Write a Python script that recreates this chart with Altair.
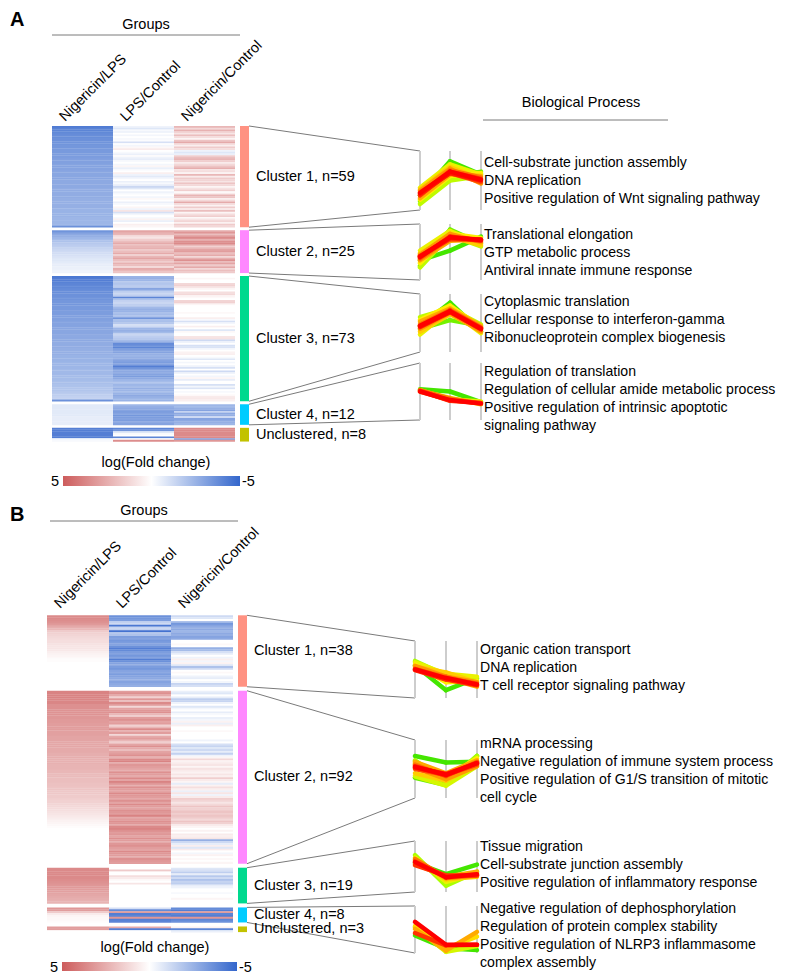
import altair as alt
import pandas as pd

FONT = "Arial, Liberation Sans, sans-serif"
FS = 14.5
FS_TERM = 14.1

# ---------------- data ----------------
groups = ["Nigericin/LPS", "LPS/Control", "Nigericin/Control"]
cluster_names = ["Cluster 1", "Cluster 2", "Cluster 3", "Cluster 4", "Unclustered"]
cluster_colors = ["#ff9282", "#ff88ff", "#00d98e", "#00ccff", "#c2c200"]

a_sizes = [59, 25, 73, 12, 8]
b_sizes = [38, 92, 19, 8, 3]

# Panel A heatmap values (log fold change), one value per gene row
a_c1_nlps = [-4.3,-4.1,-4.0,-3.9,-3.8,-3.7,-3.7,-3.6,-3.6,-3.5,
             -3.5,-3.4,-3.4,-3.3,-3.3,-3.3,-3.2,-3.2,-3.2,-3.1,
             -3.1,-3.1,-3.0,-3.0,-3.0,-3.0,-2.9,-2.9,-2.9,-2.9,
             -2.9,-2.8,-2.8,-2.8,-2.8,-2.8,-2.7,-2.7,-2.7,-2.7,
             -2.7,-2.7,-2.6,-2.6,-2.6,-2.6,-2.6,-2.6,-2.5,-2.5,
             -2.5,-2.5,-2.5,-2.4,-2.4,-2.4,-2.4,-2.3,-3.6]
a_c1_lps = [-0.4,-0.8,-0.2,-0.5,0.0,-0.3,0.0,-0.2,-0.1,-1.0,
            0.0,-0.3,0.2,0.6,0.0,-0.2,-0.5,0.1,-0.4,-0.6,
            -0.2,0.0,-0.3,0.3,-0.5,-0.2,0.0,0.5,-0.4,-0.7,
            -0.3,0.0,-0.5,-0.2,-0.6,-1.3,-0.8,0.0,-0.4,-0.2,
            0.0,-0.3,0.2,0.0,-0.5,-0.2,0.0,0.3,-0.4,0.8,
            -1.0,-0.3,0.0,-0.2,0.4,-0.5,0.0,0.5,0.3]
a_c1_nctl = [2.2,1.2,2.4,1.5,0.8,2.0,1.0,0.3,1.8,2.6,
             1.2,0.5,1.6,1.0,-0.4,-0.8,-0.5,1.4,2.0,2.3,
             1.5,0.6,1.2,1.8,2.5,0.8,1.0,0.4,2.2,0.6,
             1.6,1.3,0.8,1.8,1.2,0.3,0.9,1.5,0.2,0.6,
             2.3,1.8,0.5,1.2,2.6,1.0,0.4,1.6,0.7,2.0,
             0.3,1.0,1.5,0.2,0.8,1.3,0.4,1.6,1.2]
a_c2_nlps = [-3.5,-3.2,-2.8,-2.6,-2.4,-2.2,-2.0,-1.8,-1.7,-1.6,
             -1.4,-1.3,-1.2,-1.1,-1.0,-0.9,-0.8,-0.8,-0.7,-0.6,
             -0.6,-0.5,-0.5,-0.4,-0.4]
a_c2_lps = [2.8,2.5,2.2,1.0,0.8,1.5,2.0,2.6,1.8,2.2,
            2.4,1.6,2.0,2.6,1.4,2.2,2.8,2.0,1.5,2.4,
            2.0,1.2,2.6,2.2,1.8]
a_c2_nctl = [2.6,3.2,2.0,3.0,3.6,2.4,3.4,3.6,2.8,1.4,
             2.2,2.8,3.0,2.0,2.6,1.2,2.4,3.4,2.0,2.8,
             1.6,2.6,1.2,2.0,1.6]
a_c3_nlps = [-4.4,-4.3,-4.2,-4.1,-4.0,-3.9,-3.9,-3.8,-3.7,-3.7,
             -3.6,-3.6,-3.5,-3.5,-3.4,-3.4,-3.4,-3.3,-3.3,-3.3,
             -3.2,-3.2,-3.2,-3.1,-3.1,-3.1,-3.0,-3.0,-3.0,-3.0,
             -2.9,-2.9,-2.9,-2.9,-2.8,-2.8,-2.8,-2.8,-2.7,-2.7,
             -2.7,-2.7,-2.6,-2.6,-2.6,-2.6,-2.5,-2.5,-2.5,-2.5,
             -2.4,-2.4,-2.4,-2.4,-2.3,-2.3,-2.3,-2.3,-2.2,-2.2,
             -2.2,-2.1,-2.1,-2.0,-2.0,-1.9,-1.9,-1.8,-1.7,-1.6,
             -1.5,-1.4,-3.6]
a_c3_lps = [-2.5,-2.6,-2.4,-1.8,-1.9,-1.7,-1.8,-3.0,-2.2,-1.5,
            -1.4,-1.6,-4.0,-2.0,-1.5,-1.3,-1.6,-1.8,-2.3,-2.6,
            -2.5,-2.0,-2.2,-2.0,-3.5,-2.0,-2.1,-1.8,-1.0,-1.2,
            -2.4,-2.6,-2.5,-1.5,-1.4,-1.6,-1.8,-2.2,-2.8,-3.8,
            -3.6,-4.0,-3.2,-3.0,-3.0,-2.6,-2.4,-2.6,-2.8,-3.0,
            -3.2,-3.0,-4.2,-3.6,-3.0,-2.8,-2.6,-3.0,-3.2,-2.8,
            -2.4,-2.2,-2.0,-2.4,-2.2,-2.6,-2.4,-2.0,-2.5,-2.8,
            -2.6,-2.4,-2.5]
a_c3_nctl = [0.0,0.3,0.0,0.0,1.2,1.4,0.8,0.3,0.0,1.0,
             1.2,0.4,0.2,0.0,1.3,1.4,0.3,0.0,0.0,0.0,
             0.0,0.2,0.0,0.0,0.5,-0.2,-1.0,-0.3,0.0,0.5,
             0.0,-0.8,0.2,0.0,0.0,0.8,0.9,-1.2,-0.4,0.0,
             -1.0,-0.9,-0.3,0.0,0.4,0.5,0.0,-0.2,-0.8,0.0,
             -0.3,0.0,-0.4,-1.0,0.0,-1.2,-0.5,0.0,-0.3,0.3,
             -0.6,0.0,0.0,-1.0,-0.3,-0.9,0.0,-0.2,0.0,0.2,
             0.6,0.7,0.5]
a_c4_nlps = [-0.7,-0.7,-0.7,-0.7,-0.7,-0.7,-0.7,-0.6,-0.6,-0.6,-0.6,-0.6]
a_c4_lps = [-2.4,-2.6,-2.8,-3.0,-3.2,-3.0,-3.4,-3.2,-3.0,-3.2,-2.8,-3.0]
a_c4_nctl = [-2.4,-2.2,-2.6,-3.0,-1.4,-2.8,-2.6,-1.2,-3.0,-2.8,-2.6,-2.4]
a_u_nlps = [-4.2,-4.2,-4.2,-4.2,-4.2,-4.2,-0.3,-0.2]
a_u_lps = [-4.0,-3.5,-0.8,-0.2,0.0,-4.0,0.0,3.5]
a_u_nctl = [3.6,3.6,3.6,3.6,3.6,3.6,-3.0,3.2]

# Panel B heatmap values
b_c1_nlps = [3.6,3.6,3.5,3.4,3.2,2.8,2.5,2.2,1.6,1.4,
             1.3,1.2,1.1,1.0,1.0,0.9,0.8,0.8,0.7,0.5,
             0.4,0.3,0.2,0.1,0.1,0.0,0.0,0.0,0.0,0.0,
             0.0,0.0,0.0,0.0,0.0,0.0,0.0,0.0]
b_c1_lps = [-3.6,-3.4,-3.2,-1.6,-1.2,-4.4,-1.4,-1.5,-4.6,-1.8,
            -2.0,-3.2,-3.0,-3.4,-3.2,-3.0,-3.6,-4.2,-3.8,-3.2,
            -3.0,-3.4,-3.0,-4.2,-3.6,-3.0,-2.8,-3.2,-3.4,-3.0,
            -2.8,-3.2,-3.0,-2.8,-2.6,-3.0,-2.8,-2.6]
b_c1_nctl = [-1.2,-0.8,0.0,-2.0,-3.4,-3.0,-2.6,-2.8,-2.4,-2.8,
             -2.6,-3.0,-2.8,0.0,0.0,0.2,0.0,-2.6,-2.2,-1.0,
             -0.6,0.0,-0.4,0.5,-0.3,0.4,-0.8,-2.0,-1.2,0.0,
             0.2,0.0,-0.4,-0.6,0.0,-0.3,-1.4,-1.0]
b_c2_nlps = [3.8,3.8,3.8,3.8,3.7,3.7,3.7,3.4,3.4,3.4,
             3.3,3.3,3.3,3.2,3.2,3.1,3.1,3.0,3.0,3.0,
             3.0,2.9,2.9,2.9,2.8,2.8,2.8,2.7,2.7,2.7,
             2.6,2.6,2.6,2.5,2.5,2.5,2.4,2.4,2.4,2.3,
             2.3,2.3,2.2,2.2,2.1,2.1,2.0,2.0,2.0,1.9,
             1.9,1.8,1.8,1.7,1.7,1.6,1.6,1.5,1.4,1.4,
             1.3,1.2,1.1,1.0,0.9,0.8,0.7,0.6,0.5,0.4,
             0.3,0.2,0.1,0.0,0.0,0.0,0.0,0.0,0.0,0.0,
             0.0,0.0,0.0,0.0,0.0,0.0,0.0,0.0,0.0,0.0,
             0.0,0.0]
b_c2_lps = [3.0,3.4,2.6,1.4,3.2,2.0,3.6,3.0,1.2,2.8,
            3.2,3.4,2.2,1.6,3.0,3.4,2.8,3.0,1.4,2.2,
            3.6,2.4,3.0,1.2,2.6,3.0,2.2,1.5,2.8,3.4,
            2.6,2.0,2.8,3.0,3.4,2.4,3.6,3.8,2.6,3.2,
            3.0,2.8,2.4,3.4,3.0,2.6,3.6,2.8,3.8,3.2,
            2.4,3.4,3.0,2.8,3.6,3.2,3.0,2.6,3.4,2.8,
            3.6,3.0,2.8,3.4,3.2,3.0,3.8,2.6,3.0,3.4,
            3.2,2.8,3.6,3.8,3.4,3.0,3.2,2.8,3.4,3.0,
            2.6,3.2,3.4,3.0,2.8,3.6,3.2,3.0,2.6,3.4,
            3.2,3.0]
b_c2_nctl = [-0.5,-0.8,0.0,-0.6,-1.6,-1.4,
             -0.4,0.0,-0.8,-0.3,0.0,-0.6,-0.2,0.0,-0.5,-0.3,
             0.4,-0.5,0.5,0.0,0.0,0.2,0.0,0.0,0.0,0.0,
             -0.4,0.0,-1.0,-1.4,-0.8,-1.2,-0.6,-1.5,-0.4,0.3,
             1.2,0.4,0.6,0.8,0.3,0.9,0.6,0.4,0.8,0.5,
             1.5,0.6,0.3,-0.6,0.4,1.0,0.5,-0.5,0.8,-0.4,
             0.6,1.5,1.3,0.8,1.2,1.8,1.4,1.6,1.8,1.5,
             1.8,1.6,1.2,1.8,1.4,0.6,0.3,0.0,0.4,0.0,
             0.6,0.5,0.8,-2.6,-1.2,-0.6,0.5,-0.8,0.6,0.0,
             -0.3,0.4,0.0,0.2,0.0,0.3]
b_c3_nlps = [3.6,3.6,3.6,3.6,3.6,3.6,3.5,3.4,3.3,3.2,
             3.1,3.0,2.9,2.8,2.7,2.6,2.5,2.4,2.3]
b_c3_lps = [0.0,1.6,0.0,0.0,1.0,0.6,0.2,0.0,0.8,0.0,
            0.0,0.0,0.0,0.0,0.0,0.0,0.0,0.0,0.0]
b_c3_nctl = [-0.8,-1.0,-1.6,-0.6,-1.8,-1.2,-2.0,-1.4,-1.6,-0.6,
             -0.4,0.0,0.0,-0.2,0.0,0.0,0.3,0.0,0.0]
b_c4_nlps = [3.2,3.0,1.6,0.6,0.3,0.2,0.2,0.1]
b_c4_lps = [-1.0,-3.8,3.0,-4.2,-4.0,3.2,-4.2,-4.0]
b_c4_nctl = [-3.8,-4.2,3.0,-4.0,-4.2,3.2,-4.0,-3.6]
b_u_nlps = [3.0,3.0,0.0]
b_u_lps = [2.6,-4.2,0.0]
b_u_nctl = [0.4,-4.0,-0.5]

a_heat = [[a_c1_nlps, a_c1_lps, a_c1_nctl], [a_c2_nlps, a_c2_lps, a_c2_nctl],
          [a_c3_nlps, a_c3_lps, a_c3_nctl], [a_c4_nlps, a_c4_lps, a_c4_nctl],
          [a_u_nlps, a_u_lps, a_u_nctl]]
b_heat = [[b_c1_nlps, b_c1_lps, b_c1_nctl], [b_c2_nlps, b_c2_lps, b_c2_nctl],
          [b_c3_nlps, b_c3_lps, b_c3_nctl], [b_c4_nlps, b_c4_lps, b_c4_nctl],
          [b_u_nlps, b_u_lps, b_u_nctl]]

# Cluster profiles: standardized values at the three comparisons, and membership
a_prof = [
    [[-1.0,1.3,0.4],[-1.4,0.2,0.6],[-1.6,0.0,0.3],[-0.5,1.1,0.4],[-1.3,0.3,0.5],[-0.6,0.9,0.1],
     [-1.2,0.4,0.3],[-0.7,0.8,-0.2],[-1.0,0.7,0.2],[-0.8,0.5,-0.1],[-1.0,0.6,0.1],[-0.9,0.5,0.0],[-0.85,0.6,0.05]],
    [[-0.6,0.1,1.1],[-1.0,1.6,0.6],[-1.1,1.2,0.4],[0.1,1.5,0.6],[-0.8,1.3,1.0],[-0.1,1.1,0.5],
     [-0.6,0.8,0.9],[-0.2,1.3,0.7],[-0.5,1.0,0.8],[-0.3,0.9,0.9],[-0.4,1.1,0.8],[-0.3,1.0,0.9],[-0.35,1.05,0.85]],
    [[-0.2,1.4,-0.6],[-0.4,0.2,-0.2],[0.4,1.0,-0.1],[-0.8,0.9,-0.7],[0.2,1.2,-0.3],[-0.6,0.6,-0.5],
     [0.1,1.0,-0.2],[-0.4,0.7,-0.6],[-0.1,0.9,-0.3],[-0.3,0.8,-0.45],[-0.2,0.85,-0.35],[-0.25,0.75,-0.4],[-0.2,0.8,-0.4]],
    [[0.15,0.0,-0.75],[0.1,-0.55,-0.7],[0.05,-0.45,-0.9],[0.0,-0.6,-0.8],[0.1,-0.5,-0.85],[0.05,-0.65,-0.8],[0.0,-0.6,-0.85]],
]
a_memb = [
    [0.05,0.12,0.25,0.35,0.4,0.5,0.6,0.65,0.75,0.85,0.9,0.95,1.0],
    [0.05,0.12,0.25,0.35,0.4,0.5,0.6,0.65,0.75,0.85,0.9,0.95,1.0],
    [0.05,0.12,0.25,0.35,0.4,0.5,0.6,0.65,0.75,0.85,0.9,0.95,1.0],
    [0.05,0.35,0.5,0.65,0.75,0.9,1.0],
]
b_prof = [
    [[0.3,-1.45,-0.6],[0.6,-0.4,-0.65],[0.5,-0.3,-0.5],[0.35,-0.9,-0.8],[0.2,-0.2,-0.9],[0.1,-0.6,-1.2],
     [0.25,-0.5,-0.9],[0.0,-0.5,-1.1],[0.05,-0.6,-1.0],[-0.05,-0.7,-1.1],[0.0,-0.6,-1.05]],
    [[0.9,0.45,0.5],[-0.6,-1.1,0.9],[0.6,-0.9,0.9],[-0.5,-1.15,0.2],[0.4,-0.6,0.75],[-0.3,-0.8,0.3],
     [0.5,-0.3,0.6],[0.1,-0.7,0.2],[0.3,-0.5,0.5],[0.0,-0.4,0.3],[0.2,-0.45,0.45],[0.1,-0.35,0.4],[0.15,-0.4,0.4]],
    [[0.3,-0.6,0.15],[0.9,-1.5,-0.4],[0.7,-1.2,-0.6],[0.5,-1.0,-0.8],[0.2,-0.8,-0.4],[0.6,-0.9,-0.7],
     [0.4,-0.8,-0.65],[0.1,-0.7,-0.7],[0.35,-0.85,-0.6]],
    [[-0.5,-1.6,-1.75],[0.2,-1.9,-1.4],[0.3,-1.6,-0.6],[0.05,-1.8,-0.2],[-0.3,-1.35,-1.3],[0.65,-1.3,-1.3]],
]
b_memb = [
    [0.05,0.2,0.35,0.4,0.5,0.6,0.65,0.75,0.85,0.9,1.0],
    [0.05,0.1,0.2,0.3,0.4,0.5,0.6,0.65,0.75,0.85,0.9,0.95,1.0],
    [0.05,0.2,0.35,0.5,0.6,0.75,0.85,0.9,1.0],
    [0.05,0.3,0.45,0.6,0.9,1.0],
]

a_terms = [
    ["Cell-substrate junction assembly", "DNA replication", "Positive regulation of Wnt signaling pathway"],
    ["Translational elongation", "GTP metabolic process", "Antiviral innate immune response"],
    ["Cytoplasmic translation", "Cellular response to interferon-gamma", "Ribonucleoprotein complex biogenesis"],
    ["Regulation of translation", "Regulation of cellular amide metabolic process",
     "Positive regulation of intrinsic apoptotic", "signaling pathway"],
]
b_terms = [
    ["Organic cation transport", "DNA replication", "T cell receptor signaling pathway"],
    ["mRNA processing", "Negative regulation of immune system process",
     "Positive regulation of G1/S transition of mitotic", "cell cycle"],
    ["Tissue migration", "Cell-substrate junction assembly", "Positive regulation of inflammatory response"],
    ["Negative regulation of dephosphorylation", "Regulation of protein complex stability",
     "Positive regulation of NLRP3 inflammasome", "complex assembly"],
]

# ---------------- layout (page pixels) ----------------
LAYOUT = {
    "A": dict(heat_x=52, col_w=61, top=126, row_h=1.715, gap=3, bar_x=240, bar_w=9,
              px=[420, 450, 481], regions=[(151, 210), (224, 280), (294, 352), (363, 420)],
              term_x=484, term_y=[163, 235, 302, 372], header_dx=13, header_y=122,
              letter_y=26, groups_y=25, groups_line=(52, 240, 35),
              cbar=(63, 240, 476, 486), cbar_title=(156, 463), bp=(581, 103, 483, 668, 120)),
    "B": dict(heat_x=47, col_w=62, top=615.3, row_h=1.88, gap=4, bar_x=238, bar_w=9,
              px=[415, 446, 477], regions=[(641, 698), (740, 798), (841, 892), (906, 953)],
              term_x=480, term_y=[650, 744, 847, 909], header_dx=13, header_y=609,
              letter_y=521, groups_y=511, groups_line=(50, 238, 521),
              cbar=(62, 237, 962, 971), cbar_title=(155, 948), bp=None),
}

heat_rows, bar_rows, dark_segs, light_segs, prof_segs = [], [], [], [], []
txt_label, txt_term, txt_center, txt_head, txt_letter, txt_right = [], [], [], [], [], []
cbar_rows = []

for key, sizes, heat, prof, memb, terms in [("A", a_sizes, a_heat, a_prof, a_memb, a_terms),
                                             ("B", b_sizes, b_heat, b_prof, b_memb, b_terms)]:
    L = LAYOUT[key]
    rh = L["row_h"]
    y = L["top"]
    for ci, n in enumerate(sizes):
        y_start = y
        for gi in range(3):
            vals = heat[ci][gi]
            for r in range(n):
                heat_rows.append(dict(x=L["heat_x"] + gi * L["col_w"], x2=L["heat_x"] + (gi + 1) * L["col_w"],
                                      y=y_start + r * rh, y2=y_start + (r + 1) * rh + 0.3, v=vals[r]))
        y_end = y_start + n * rh
        bar_rows.append(dict(x=L["bar_x"], x2=L["bar_x"] + L["bar_w"], y=y_start, y2=y_end,
                             cluster=cluster_names[ci]))
        label = f"{cluster_names[ci]}, n={n}"
        txt_label.append(dict(x=L["bar_x"] + L["bar_w"] + 7, y=(y_start + y_end) / 2, t=label))
        if ci < 4:
            rt, rb = L["regions"][ci]
            bx = L["bar_x"] + L["bar_w"]
            p0, p1, p2 = L["px"]
            dark_segs.append(dict(x=bx, y=y_start, x2=p0, y2=rt))
            dark_segs.append(dict(x=bx, y=y_end, x2=p0, y2=rb))
            for p in (p0, p1, p2):
                light_segs.append(dict(x=p, y=rt, x2=p, y2=rb))
            mid = (rt + rb) / 2
            unit = (rb - rt) / 4
            for li, (vals, m) in enumerate(zip(prof[ci], memb[ci])):
                ys = [mid - v * unit for v in vals]
                prof_segs.append(dict(x=p0, y=ys[0], x2=p1, y2=ys[1], m=m))
                prof_segs.append(dict(x=p1, y=ys[1], x2=p2, y2=ys[2], m=m))
            for j, t in enumerate(terms[ci]):
                txt_term.append(dict(x=L["term_x"], y=L["term_y"][ci] + j * 18, t=t))
        y = y_end + L["gap"]
    for gi, g in enumerate(groups):
        txt_head.append(dict(x=L["heat_x"] + gi * L["col_w"] + L["header_dx"], y=L["header_y"], t=g))
    gx0, gx1, gy = L["groups_line"]
    txt_center.append(dict(x=(gx0 + gx1) / 2, y=L["groups_y"], t="Groups"))
    dark_segs.append(dict(x=gx0, y=gy, x2=gx1, y2=gy))
    txt_letter.append(dict(x=10, y=L["letter_y"], t=key))
    cx0, cx1, cy0, cy1 = L["cbar"]
    cbar_rows.append(dict(x=cx0, x2=cx1, y=cy0, y2=cy1))
    txt_center.append(dict(x=L["cbar_title"][0], y=L["cbar_title"][1], t="log(Fold change)"))
    txt_right.append(dict(x=cx0 - 4, y=(cy0 + cy1) / 2 + 1, t="5", a="right"))
    txt_right.append(dict(x=cx1 + 2, y=(cy0 + cy1) / 2 + 1, t="-5", a="left"))
    if L["bp"]:
        bx, by, lx0, lx1, ly = L["bp"]
        txt_center.append(dict(x=bx, y=by, t="Biological Process"))
        dark_segs.append(dict(x=lx0, y=ly, x2=lx1, y2=ly))

prof_df = pd.DataFrame(prof_segs).sort_values("m", kind="stable")

XS = alt.Scale(domain=[8, 777], nice=False, zero=False)
YS = alt.Scale(domain=[8, 976], nice=False, zero=False, reverse=True)


def X():
    return alt.X("x:Q", scale=XS, axis=None)


def Y():
    return alt.Y("y:Q", scale=YS, axis=None)


heat_layer = alt.Chart(pd.DataFrame(heat_rows)).mark_rect(strokeWidth=0).encode(
    x=X(), x2="x2:Q", y=Y(), y2="y2:Q",
    color=alt.Color("v:Q", legend=None,
                    scale=alt.Scale(domain=[-5, 0, 5], range=["#3366cc", "#ffffff", "#cd5c5c"],
                                    clamp=True, interpolate="rgb")))

bar_layer = alt.Chart(pd.DataFrame(bar_rows)).mark_rect().encode(
    x=X(), x2="x2:Q", y=Y(), y2="y2:Q",
    fill=alt.Fill("cluster:N", legend=None, scale=alt.Scale(domain=cluster_names, range=cluster_colors)))

dark_layer = alt.Chart(pd.DataFrame(dark_segs)).mark_rule(color="#7a7a7a", strokeWidth=1).encode(
    x=X(), x2="x2:Q", y=Y(), y2="y2:Q")

light_layer = alt.Chart(pd.DataFrame(light_segs)).mark_rule(color="#cdcdcd", strokeWidth=2).encode(
    x=X(), x2="x2:Q", y=Y(), y2="y2:Q")

prof_layer = alt.Chart(prof_df).mark_rule(strokeWidth=4.5, strokeCap="round").encode(
    x=X(), x2="x2:Q", y=Y(), y2="y2:Q",
    stroke=alt.Stroke("m:Q", legend=None,
                      scale=alt.Scale(domain=[0, 0.2, 0.4, 0.6, 0.8, 1.0],
                                      range=["#22dd00", "#aaff00", "#ffee00", "#ffaa00", "#ff6600", "#ff0000"],
                                      interpolate="rgb")))

grad = alt.LinearGradient(gradient="linear",
                          stops=[alt.GradientStop(color="#cd5c5c", offset=0),
                                 alt.GradientStop(color="#ffffff", offset=0.5),
                                 alt.GradientStop(color="#3366cc", offset=1)],
                          x1=0, x2=1, y1=0, y2=0)
cbar_layer = alt.Chart(pd.DataFrame(cbar_rows)).mark_rect(color=grad).encode(
    x=X(), x2="x2:Q", y=Y(), y2="y2:Q")

t_label = alt.Chart(pd.DataFrame(txt_label)).mark_text(
    align="left", baseline="middle", fontSize=FS, font=FONT, color="#000000").encode(x=X(), y=Y(), text="t:N")
t_term = alt.Chart(pd.DataFrame(txt_term)).mark_text(
    align="left", baseline="middle", fontSize=FS_TERM, font=FONT, color="#000000").encode(x=X(), y=Y(), text="t:N")
t_center = alt.Chart(pd.DataFrame(txt_center)).mark_text(
    align="center", baseline="middle", fontSize=FS, font=FONT, color="#000000").encode(x=X(), y=Y(), text="t:N")
t_head = alt.Chart(pd.DataFrame(txt_head)).mark_text(
    align="left", baseline="alphabetic", angle=315, fontSize=FS, font=FONT, color="#000000").encode(
    x=X(), y=Y(), text="t:N")
t_letter = alt.Chart(pd.DataFrame(txt_letter)).mark_text(
    align="left", baseline="alphabetic", fontSize=20, fontWeight="bold", font=FONT, color="#000000").encode(
    x=X(), y=Y(), text="t:N")
tr = pd.DataFrame(txt_right)
t_r = alt.Chart(tr[tr.a == "right"]).mark_text(
    align="right", baseline="middle", fontSize=FS, font=FONT, color="#000000").encode(x=X(), y=Y(), text="t:N")
t_l = alt.Chart(tr[tr.a == "left"]).mark_text(
    align="left", baseline="middle", fontSize=FS, font=FONT, color="#000000").encode(x=X(), y=Y(), text="t:N")

chart = alt.layer(heat_layer, bar_layer, dark_layer, light_layer, prof_layer, cbar_layer,
                  t_label, t_term, t_center, t_head, t_letter, t_r, t_l).properties(
    width=769, height=968, padding=0, autosize=alt.AutoSizeParams(type="none")
).configure_view(stroke=None)

chart.save("out.html", embed_options={"renderer": "svg", "actions": False})
